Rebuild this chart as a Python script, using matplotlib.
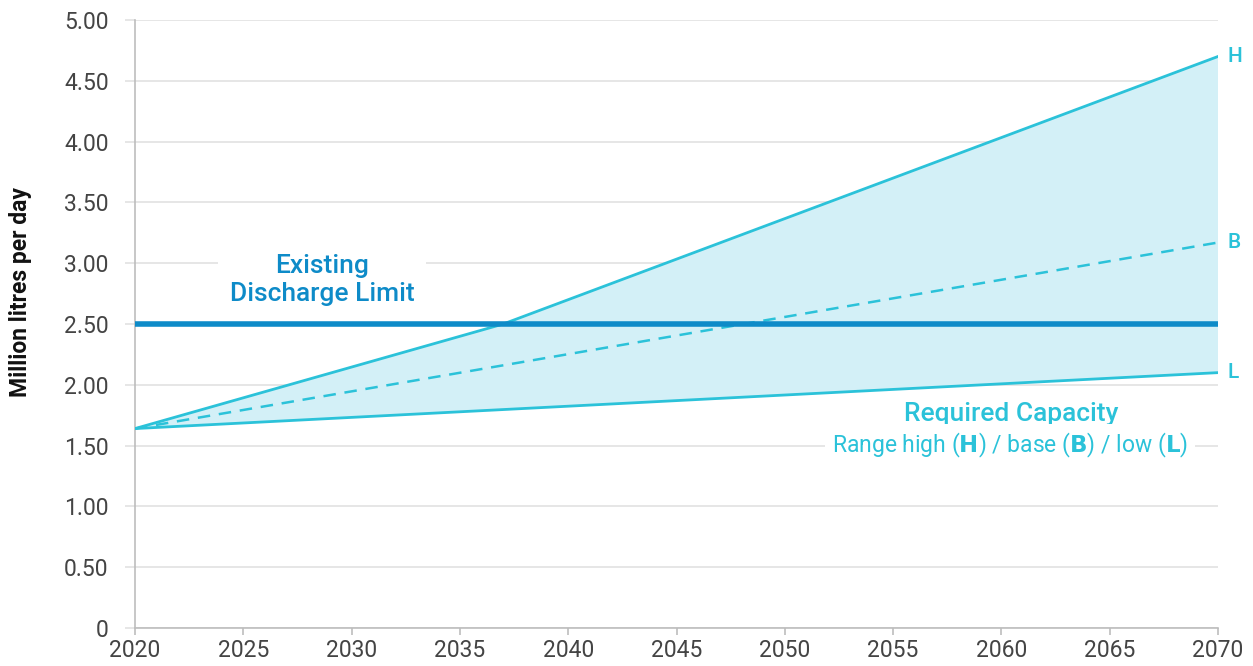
import matplotlib.pyplot as plt

plt.rcParams["font.family"] = ["Roboto", "DejaVu Sans"]

# High scenario bends where it crosses the existing limit
high_years = [2020, 2037, 2070]
high = [1.64, 2.50, 4.70]
years = [2020, 2070]
base = [1.64, 3.17]
low = [1.64, 2.10]
discharge_limit = 2.50
y_ticks = [0, 0.5, 1.0, 1.5, 2.0, 2.5, 3.0, 3.5, 4.0, 4.5, 5.0]
y_labels = ["0", "0.50", "1.00", "1.50", "2.00", "2.50", "3.00", "3.50", "4.00", "4.50", "5.00"]
x_ticks = list(range(2020, 2071, 5))

CYAN = "#2bc2d9"
FILL = "#d3f0f7"
BLUE = "#0e8bc8"
GRID = "#e2e2e2"
TEXT = "#444444"

fig = plt.figure(figsize=(12.53, 6.66), dpi=100)
ax = fig.add_axes([135 / 1253, 38 / 666, 1083 / 1253, 608 / 666])

# shaded range between low and high
ax.fill(high_years + years[::-1], high + low[::-1], color=FILL, lw=0, zorder=1)
ax.plot(high_years, high, color=CYAN, lw=2, zorder=3)
ax.plot(years, low, color=CYAN, lw=2, zorder=3)
ax.plot(years, base, color=CYAN, lw=1.8, ls=(0, (5, 3.5)), zorder=3)
ax.axhline(discharge_limit, color=BLUE, lw=4, zorder=4)

ax.set_xlim(2020, 2070)
ax.set_ylim(0, 5)
ax.set_xticks(x_ticks)
ax.set_yticks(y_ticks)
ax.set_yticklabels(y_labels)
ax.grid(axis="y", color=GRID, lw=1.2, zorder=0)
ax.set_axisbelow(True)

for side in ["top", "right"]:
    ax.spines[side].set_visible(False)
for side in ["left", "bottom"]:
    ax.spines[side].set_color("#bdbdbd")
    ax.spines[side].set_linewidth(1.2)

ax.tick_params(axis="y", length=7, color=GRID, width=1.2, labelsize=16.5,
               labelcolor=TEXT, pad=12)
ax.tick_params(axis="x", length=5, color="#bdbdbd", width=1.2, labelsize=16.5,
               labelcolor=TEXT, pad=3)

ax.set_ylabel("Million litres per day", fontsize=16.5, fontweight="bold",
              color="#111111")
ax.yaxis.set_label_coords(-103 / 1083, 0.553)

# end labels
for name, series in [("H", high), ("B", base), ("L", low)]:
    ax.annotate(name, (2070, series[-1]), xytext=(7, 0),
                textcoords="offset points", va="center", ha="left",
                color=CYAN, fontsize=15, fontweight="medium",
                annotation_clip=False)

ax.text(2028.63, 2.86, "Existing\nDischarge Limit", ha="center", va="center",
        color=BLUE, fontsize=19, fontweight="medium", linespacing=1.2,
        zorder=5,
        bbox=dict(boxstyle="square,pad=0.45", fc="white", ec="none"))

ax.text(2060.45, 1.76, "Required Capacity", ha="center", va="center",
        color=CYAN, fontsize=19, fontweight="medium", zorder=5)
ax.text(2060.4, 1.505, r"Range high ($\mathbf{H}$) / base ($\mathbf{B}$) / low ($\mathbf{L}$)",
        ha="center", va="center", color=CYAN, fontsize=16.5, zorder=5,
        bbox=dict(boxstyle="square,pad=0.3", fc="white", ec="none"))

fig.savefig("out.png", dpi=100)
